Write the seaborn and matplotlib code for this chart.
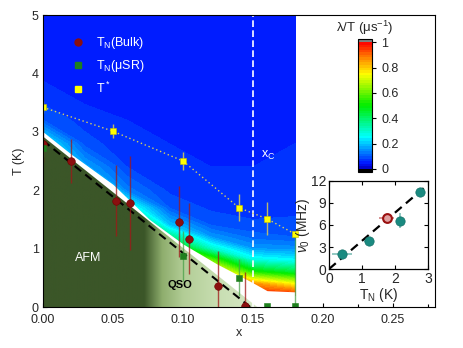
import numpy as np
import matplotlib
matplotlib.use("Agg")
import matplotlib.pyplot as plt
import seaborn as sns
from matplotlib.colors import LinearSegmentedColormap
from matplotlib.patches import Polygon
from matplotlib.lines import Line2D
from matplotlib.ticker import MultipleLocator

# ---------------- data ----------------
bulk_x = [0.0, 0.02, 0.052, 0.062, 0.097, 0.104, 0.125, 0.144]
bulk_T = [2.79, 2.50, 1.82, 1.78, 1.46, 1.17, 0.36, 0.02]
bulk_err = [0.30, 0.37, 0.61, 0.81, 0.61, 0.61, 0.60, 0.58]

musr_x = [0.0, 0.10, 0.14, 0.16, 0.18]
musr_T = [2.72, 0.87, 0.50, 0.02, 0.02]
musr_err_lo = [0.15, 0.43, 0.32, 0.0, 0.0]
musr_err_hi = [0.15, 0.43, 0.32, 0.0, 1.23]

tstar_x = [0.0, 0.05, 0.10, 0.14, 0.16, 0.18]
tstar_T = [3.42, 3.01, 2.50, 1.70, 1.51, 1.25]
tstar_err = [0.10, 0.12, 0.15, 0.23, 0.28, 0.0]

# lambda/T map (rows: T, cols: x)
map_x = [0.0, 0.03, 0.06, 0.09, 0.12, 0.15, 0.18]
map_T = [0.2, 0.4, 0.6, 0.8, 1.0, 1.2, 1.4, 1.7, 2.0, 2.4, 2.8, 3.2, 3.6, 4.0, 4.5, 5.0]
map_val = [
    [0.40, 0.40, 0.60, 0.98, 0.98, 0.98, 0.98],
    [0.40, 0.40, 0.60, 0.98, 0.98, 0.86, 0.74],
    [0.40, 0.40, 0.60, 0.98, 0.85, 0.52, 0.44],
    [0.40, 0.40, 0.60, 0.90, 0.60, 0.28, 0.25],
    [0.40, 0.40, 0.60, 0.60, 0.30, 0.16, 0.15],
    [0.40, 0.40, 0.60, 0.38, 0.16, 0.11, 0.10],
    [0.40, 0.40, 0.60, 0.20, 0.10, 0.085, 0.085],
    [0.40, 0.40, 0.30, 0.10, 0.075, 0.07, 0.075],
    [0.40, 0.40, 0.13, 0.075, 0.065, 0.065, 0.07],
    [0.40, 0.17, 0.08, 0.065, 0.06, 0.06, 0.065],
    [0.25, 0.09, 0.065, 0.06, 0.06, 0.055, 0.06],
    [0.10, 0.07, 0.06, 0.055, 0.055, 0.05, 0.06],
    [0.07, 0.055, 0.05, 0.05, 0.05, 0.045, 0.06],
    [0.055, 0.045, 0.045, 0.045, 0.045, 0.045, 0.06],
    [0.05, 0.045, 0.04, 0.04, 0.04, 0.04, 0.06],
    [0.06, 0.05, 0.045, 0.045, 0.045, 0.045, 0.06],
]
# lower edge of the measured map
edge_x = [0.0, 0.02, 0.05, 0.076, 0.10, 0.124, 0.148, 0.16, 0.18]
edge_T = [3.0, 2.62, 2.10, 1.50, 1.08, 0.74, 0.44, 0.28, 0.26]

# AFM region and T_N line
afm_x = [0.0, 0.0, 0.153]
afm_T = [0.0, 2.92, 0.0]
tn_line_x = [0.0, 0.148]
tn_line_T = [2.85, 0.0]
xc = 0.15

# inset data
ins_tn = [0.4, 1.2, 2.15, 2.75]
ins_nu = [2.0, 3.8, 6.6, 10.5]
ins_xerr = [0.3, 0.15, 0.05, 0.0]
ins_yerr = [0.0, 0.0, 1.07, 0.0]
ins_red_tn = [1.75]
ins_red_nu = [6.9]
ins_red_xerr = [0.23]
fit_tn = [0.0, 2.89]
fit_nu = [0.0, 11.1]

# ---------------- style ----------------
sns.set_style("ticks")
plt.rcParams["font.family"] = ["Liberation Sans", "DejaVu Sans"]
plt.rcParams["mathtext.fontset"] = "custom"
plt.rcParams["mathtext.rm"] = "Liberation Sans"
plt.rcParams["mathtext.it"] = "Liberation Sans:italic"
plt.rcParams["mathtext.bf"] = "Liberation Sans:bold"

fig = plt.figure(figsize=(4.63, 3.48), dpi=100)
ax = fig.add_axes([0.0929, 0.1178, 0.8467, 0.839])

cmap = LinearSegmentedColormap.from_list(
    "lam",
    [(0.0, (0.0, 0.0, 0.75)), (0.04, (0.0, 0.08, 1.0)), (0.10, (0.0, 0.35, 1.0)),
     (0.25, (0.0, 1.0, 1.0)), (0.50, (0.0, 0.93, 0.0)), (0.75, (1.0, 1.0, 0.0)),
     (0.88, (1.0, 0.5, 0.0)), (1.0, (1.0, 0.0, 0.0))])
cmap.set_under("black")
cmap.set_over("#808080")

X, Y = np.meshgrid(map_x, map_T)
Z = np.array(map_val)
cf = ax.contourf(X, Y, Z, levels=np.linspace(0, 1, 51), cmap=cmap, extend="both", zorder=1)

# white gap below map
ax.fill_between(edge_x, 0, edge_T, color="white", lw=0, zorder=2)

# AFM gradient region
green_pos = [0.0, 0.072, 0.085, 0.10, 0.125, 0.155]
green_col = ["#3b5628", "#3b5628", "#8fae6e", "#b2cd96", "#c8deb2", "#d8e9c8"]
cmap_g = LinearSegmentedColormap.from_list("g", list(zip(np.array(green_pos) / 0.155, green_col)))
im = ax.imshow(np.linspace(0, 1, 256)[None, :], extent=[0, 0.155, 0, 3.0], cmap=cmap_g,
               aspect="auto", origin="lower", zorder=3)
poly = Polygon(list(zip(afm_x, afm_T)), closed=True, facecolor="none", edgecolor="none",
               transform=ax.transData)
ax.add_patch(poly)
im.set_clip_path(poly)

ax.plot(tn_line_x, tn_line_T, color="black", ls=(0, (4, 2.5)), lw=1.5, zorder=4)
ax.axvline(xc, color="white", ls=(0, (4, 2)), lw=1.2, zorder=4)
ax.plot(tstar_x, tstar_T, color="#d8d060", ls=(0, (1, 2)), lw=1.0, zorder=4)

ax.errorbar(tstar_x, tstar_T, yerr=tstar_err, fmt="none", ecolor="#b8b870", elinewidth=1, zorder=5)
ax.errorbar(bulk_x, bulk_T, yerr=bulk_err, fmt="none", ecolor="#a01818", elinewidth=1,
            alpha=0.75, zorder=5)
ax.errorbar(musr_x, musr_T, yerr=[musr_err_lo, musr_err_hi], fmt="none", ecolor="#48a048",
            elinewidth=1, alpha=0.75, zorder=5)

sns.scatterplot(x=bulk_x, y=bulk_T, ax=ax, marker="o", color="#8b0f0f", s=30,
                edgecolor="#700000", linewidth=0.4, zorder=6, legend=False)
sns.scatterplot(x=musr_x, y=musr_T, ax=ax, marker="s", color="#1e801e", s=18,
                edgecolor="#1e801e", linewidth=0.4, zorder=6, legend=False)
sns.scatterplot(x=tstar_x, y=tstar_T, ax=ax, marker="s", color="#ffff00", s=22,
                edgecolor="#c8c000", linewidth=0.4, zorder=6, legend=False)

ax.set_xlim(0, 0.28)
ax.set_ylim(0, 5)
ax.xaxis.set_major_locator(MultipleLocator(0.05))
ax.xaxis.set_minor_locator(MultipleLocator(0.025))
ax.yaxis.set_major_locator(MultipleLocator(1))
ax.yaxis.set_minor_locator(MultipleLocator(0.5))
ax.tick_params(which="both", direction="in", labelsize=9, width=0.8, color="black")
ax.tick_params(which="major", length=3)
ax.tick_params(which="minor", length=2)
ax.tick_params(axis="x", pad=5)
ax.tick_params(axis="y", pad=3)
ax.set_xticks([0, 0.05, 0.10, 0.15, 0.20, 0.25])
ax.set_xticklabels(["0.00", "0.05", "0.10", "0.15", "0.20", "0.25"])
for s in ax.spines.values():
    s.set_color("black")
    s.set_linewidth(0.8)
    s.set_zorder(10)
ax.set_xlabel("x", fontsize=9, labelpad=1)
ax.set_ylabel("T (K)", fontsize=9, labelpad=5)

ax.text(0.032, 0.84, "AFM", color="white", fontsize=9, ha="center", va="center", zorder=7)
ax.text(0.098, 0.37, "QSO", color="black", fontsize=8, fontweight="bold", ha="center",
        va="center", zorder=7)
ax.text(0.156, 2.6, r"x$_\mathrm{C}$", color="white", fontsize=9, ha="left", va="center", zorder=7)

handles = [
    Line2D([], [], marker="o", ls="none", color="#8b0f0f", markersize=5),
    Line2D([], [], marker="s", ls="none", color="#1e801e", markersize=4.5),
    Line2D([], [], marker="s", ls="none", color="#ffff00", markersize=4.5),
]
labels = [r"T$_\mathrm{N}$(Bulk)", r"T$_\mathrm{N}$(μSR)", r"T$^*$"]
leg = ax.legend(handles, labels, loc="upper left", bbox_to_anchor=(0.045, 0.97), frameon=False,
                fontsize=9, handlelength=1.0, handletextpad=0.9, labelspacing=0.55,
                labelcolor="white")
leg.set_zorder(8)

# colorbar
cax = fig.add_axes([0.7732, 0.5057, 0.0302, 0.3822])
cb = fig.colorbar(cf, cax=cax, extendrect=True, extendfrac=0.025,
                  ticks=[0, 0.2, 0.4, 0.6, 0.8, 1.0])
cb.ax.set_yticklabels(["0", "0.2", "0.4", "0.6", "0.8", "1"])
cb.ax.tick_params(labelsize=9, length=3, width=0.8, direction="out", color="black")
cb.outline.set_linewidth(0.8)
cb.outline.set_edgecolor("black")
cb.ax.set_title("λ/T (μs$^{-1}$)", fontsize=9.5, pad=5)

# inset
ax2 = fig.add_axes([0.7106, 0.227, 0.2138, 0.2529])
ax2.set_facecolor("white")
ax2.plot(fit_tn, fit_nu, color="black", ls=(0, (4, 2.5)), lw=1.6, zorder=2)
ax2.errorbar(ins_tn, ins_nu, xerr=ins_xerr, yerr=ins_yerr, fmt="none", ecolor="#7fbfb8",
             elinewidth=1.2, zorder=3)
ax2.errorbar(ins_red_tn, ins_red_nu, xerr=ins_red_xerr, fmt="none", ecolor="#d08080",
             elinewidth=1.2, zorder=3)
sns.scatterplot(x=ins_tn, y=ins_nu, ax=ax2, color="#1a8a80", s=45, edgecolor="#137068",
                linewidth=0.5, zorder=4, legend=False)
sns.scatterplot(x=ins_red_tn, y=ins_red_nu, ax=ax2, color="#e0a0a0", s=40, edgecolor="#9a1010",
                linewidth=1.5, zorder=4, legend=False)
ax2.set_xlim(0, 3)
ax2.set_ylim(0, 12)
ax2.set_xticks([0, 1, 2, 3])
ax2.set_yticks([0, 3, 6, 9, 12])
ax2.tick_params(direction="in", top=True, right=True, labelsize=10, length=3, width=0.8,
                pad=2, color="black")
for s in ax2.spines.values():
    s.set_color("black")
    s.set_linewidth(0.9)
ax2.set_xlabel(r"T$_\mathrm{N}$ (K)", fontsize=10, labelpad=0)
ax2.set_ylabel(r"$\nu_0$ (MHz)", fontsize=10, labelpad=-1)

fig.savefig("out.png", dpi=100)
